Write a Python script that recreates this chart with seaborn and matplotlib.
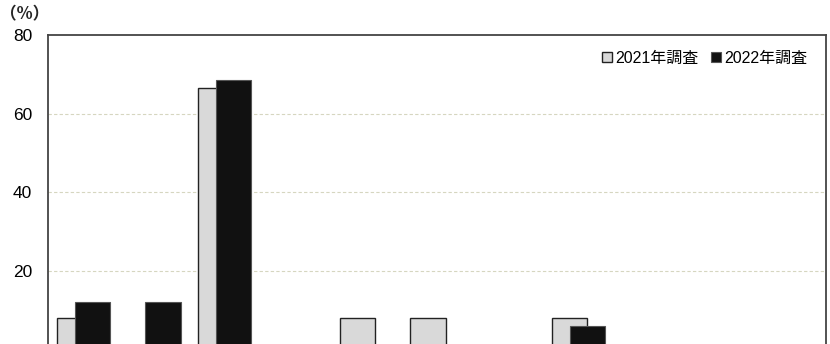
import numpy as np
import pandas as pd
import matplotlib
matplotlib.use("Agg")
import matplotlib.pyplot as plt
import seaborn as sns

categories = ["1", "2", "3", "4", "5", "6", "7", "8", "9", "10", "11"]
values_2021 = [8.0, 0.0, 66.6, 0.0, 8.0, 8.0, 0.0, 8.0, 0.0, 0.0, 0.0]
values_2022 = [12.2, 12.2, 68.6, 0.0, 0.0, 0.0, 0.0, 6.0, 0.0, 0.0, 0.0]
series_names = ["2021年調査", "2022年調査"]
yticks = [20, 40, 60, 80]

sns.set_theme(style="white")
plt.rcParams["font.family"] = ["Liberation Sans", "Noto Sans CJK JP", "DejaVu Sans"]

fig = plt.figure(figsize=(8.3, 3.44), dpi=100)
ax = fig.add_axes([48 / 830, -5.7 / 344, 778 / 830, 314.7 / 344])

idx = np.arange(len(categories))
df1 = pd.DataFrame({"pos": idx - 0.125, "val": values_2021})
df2 = pd.DataFrame({"pos": idx + 0.125, "val": values_2022})

sns.barplot(data=df1, x="pos", y="val", native_scale=True, width=0.5,
            color="#d9d9d9", edgecolor="#222222", linewidth=1.0,
            saturation=1, label=series_names[0], ax=ax, zorder=2)
sns.barplot(data=df2, x="pos", y="val", native_scale=True, width=0.5,
            color="#111111", edgecolor="#555555", linewidth=0.8,
            saturation=1, label=series_names[1], ax=ax, zorder=3)

ax.set_xlim(-0.5, len(categories) - 0.5)
ax.set_ylim(0, 80)
ax.set_yticks(yticks)
ax.set_yticklabels([str(t) for t in yticks], fontsize=12.5)
ax.set_xticks([])
ax.set_xlabel("")
ax.set_ylabel("")
ax.tick_params(axis="y", length=0, pad=11.5, colors="#000000")

for y in [20, 40, 60]:
    ax.axhline(y, color="#d6d6c0", linestyle=(0, (3, 2)), linewidth=0.8, zorder=1)

for side in ["left", "top", "right"]:
    ax.spines[side].set_color("#444444")
    ax.spines[side].set_linewidth(1.3)
ax.spines["bottom"].set_visible(False)

leg = ax.legend(loc="upper right", bbox_to_anchor=(0.99, 0.985), ncol=2,
                frameon=False, fontsize=11.5, handlelength=0.6, handleheight=0.6,
                handletextpad=0.2, columnspacing=0.8, borderaxespad=0.3)
for t in leg.get_texts():
    t.set_color("#000000")

fig.text(0 / 830, 1 - 14 / 344, "（%）", fontsize=12, va="center", ha="left",
         family=["Noto Sans CJK JP", "DejaVu Sans"], fontweight="bold")

fig.savefig("out.png", dpi=100)
